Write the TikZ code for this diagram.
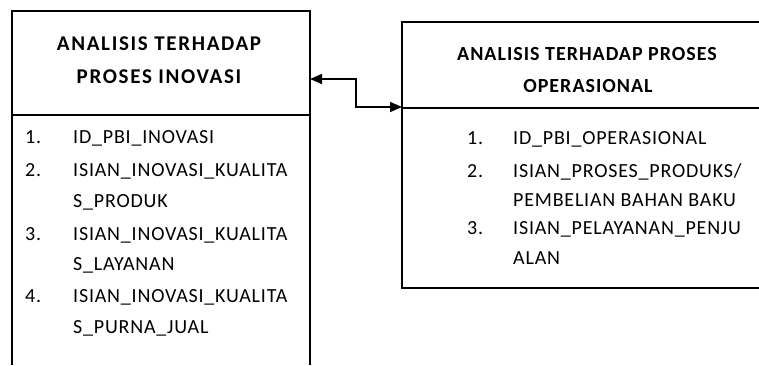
\documentclass[tikz,border=0pt]{standalone}
\usepackage{fontspec}
\setmainfont{Carlito}
\newfontfamily\titlefont[LetterSpace=8]{Carlito}
\newfontfamily\subtitlefont[LetterSpace=5]{Carlito}
\newfontfamily\itemfont[LetterSpace=4]{Carlito}
\usetikzlibrary{arrows.meta}
\begin{document}
\begin{tikzpicture}[x=1pt,y=-1pt,
  frame/.style={line width=1.6pt,black},
  titleA/.style={font=\titlefont\bfseries\fontsize{21}{25}\selectfont,anchor=base,inner sep=0pt},
  titleB/.style={font=\subtitlefont\bfseries\fontsize{20}{24}\selectfont,anchor=base,inner sep=0pt},
  num/.style={font=\itemfont\fontsize{20}{24}\selectfont,anchor=base west,inner sep=0pt},
  item/.style={font=\itemfont\fontsize{20}{24}\selectfont,anchor=base west,inner sep=0pt},
  link/.style={line width=1.6pt,{Triangle[length=12pt,width=10pt]}-{Triangle[length=12pt,width=10pt]}}]
\useasboundingbox (0,0) rectangle (759,365);

% entity: analisis proses inovasi (open at the bottom)
\draw[frame] (12,365) -- (12,11) -- (310,11) -- (310,365);
\draw[frame] (12,115) -- (310,115);
\node[titleA] (t1a) at (159,50) {ANALISIS TERHADAP};
\node[titleA] (t1b) at (159,83) {PROSES INOVASI};
\node[num] (n11) at (25,143) {1.};
\node[item] (i11) at (73,143) {ID\_PBI\_INOVASI};
\node[num] (n12) at (25,176) {2.};
\node[item] (i12) at (73,176) {ISIAN\_INOVASI\_KUALITA};
\node[item] (i12b) at (73,207) {S\_PRODUK};
\node[num] (n13) at (25,240) {3.};
\node[item] (i13) at (73,240) {ISIAN\_INOVASI\_KUALITA};
\node[item] (i13b) at (73,270) {S\_LAYANAN};
\node[num] (n14) at (25,302) {4.};
\node[item] (i14) at (73,302) {ISIAN\_INOVASI\_KUALITA};
\node[item] (i14b) at (73,333) {S\_PURNA\_JUAL};

% entity: analisis proses operasional (runs off the right edge)
\draw[frame] (759,22) -- (402,22) -- (402,288) -- (759,288);
\draw[frame] (402,108) -- (759,108);
\node[titleB] (t2a) at (587,60) {ANALISIS TERHADAP PROSES};
\node[titleB] (t2b) at (588,92) {OPERASIONAL};
\node[num] (n21) at (467,144) {1.};
\node[item] (i21) at (513,144) {ID\_PBI\_OPERASIONAL};
\node[num] (n22) at (467,177) {2.};
\node[item] (i22) at (513,177) {ISIAN\_PROSES\_PRODUKS/};
\node[item] (i22b) at (513,206) {PEMBELIAN BAHAN BAKU};
\node[num] (n23) at (467,234) {3.};
\node[item] (i23) at (513,234) {ISIAN\_PELAYANAN\_PENJU};
\node[item] (i23b) at (513,264) {ALAN};

% relationship between the two entities
\coordinate (inov) at (310,79);
\coordinate (oper) at (402,107);
\draw[link] (inov) -- ++(46,0) |- (oper);
\end{tikzpicture}
\end{document}
